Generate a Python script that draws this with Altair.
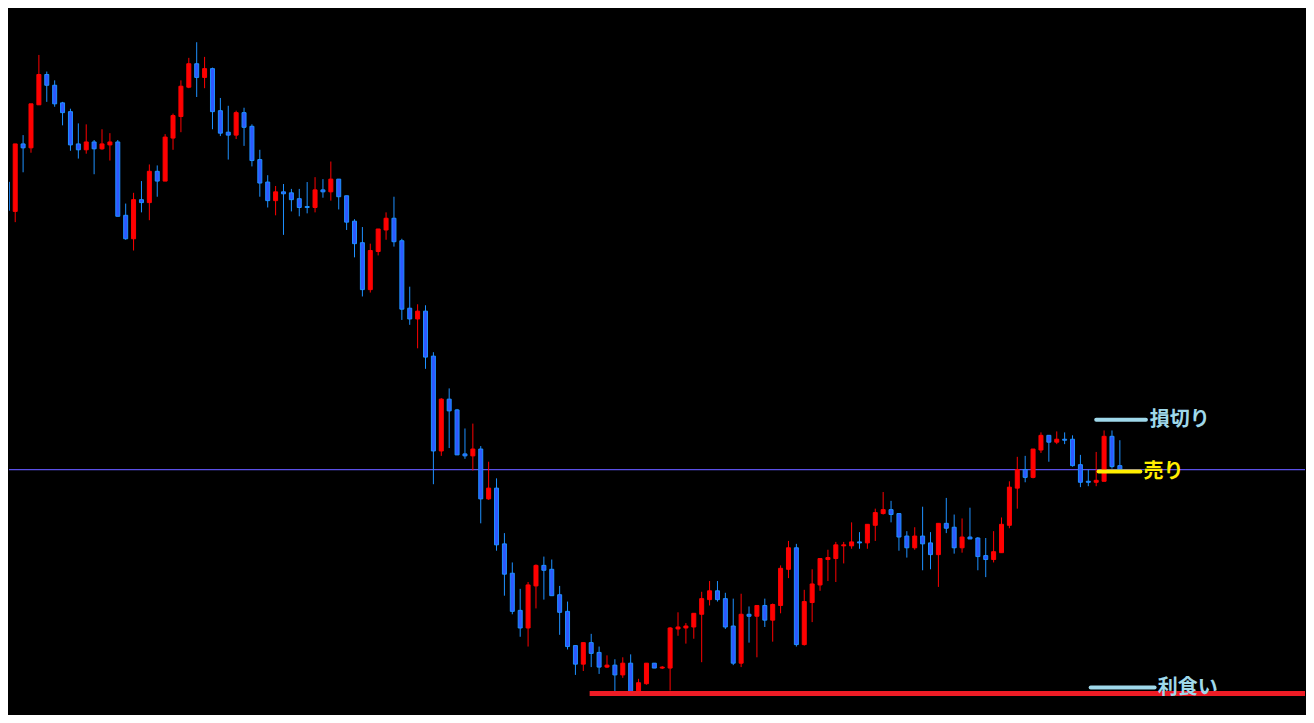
import altair as alt
import pandas as pd

# Candle readings (chart units measured downward from the top of the chart)
opens = [178, 208, 139, 143, 99, 68, 79, 97, 106, 139, 145, 137, 144, 140, 137, 212, 236, 196, 199, 167,
         177, 133, 111, 81, 57, 71, 62, 105, 127, 130, 107, 121, 155, 178, 197, 188, 189, 195, 203, 204,
         186, 188, 175, 192, 218, 240, 288, 249, 227, 215, 238, 307, 318, 310, 356, 453, 400, 411, 456, 458,
         451, 502, 491, 548, 578, 616, 634, 591, 570, 574, 600, 617, 652, 671, 649, 659, 674, 672, 682, 670,
         699, 691, 670, 675, 675, 635, 634, 633, 620, 605, 596, 604, 632, 670, 620, 622, 611, 626, 611, 574,
         552, 651, 608, 590, 564, 563, 550, 550, 546, 547, 529, 517, 513, 517, 540, 552, 540, 547, 559, 527,
         531, 552, 541, 542, 560, 564, 557, 529, 491, 472, 480, 452, 437, 444, 441, 441, 467, 484, 485, 484,
         438, 468]
highs = [175, 139, 130, 98, 48, 65, 74, 96, 103, 118, 119, 135, 124, 128, 135, 200, 189, 177, 160, 161,
         129, 108, 74, 51, 35, 50, 61, 92, 100, 105, 102, 119, 145, 171, 182, 180, 185, 185, 178, 173,
         175, 157, 175, 192, 216, 224, 241, 226, 209, 193, 236, 285, 303, 304, 352, 399, 389, 410, 430, 425,
         448, 464, 481, 537, 567, 594, 587, 569, 561, 564, 591, 607, 652, 649, 640, 653, 662, 666, 664, 661,
         686, 670, 670, 673, 633, 618, 629, 619, 597, 586, 586, 598, 604, 599, 612, 611, 604, 609, 570, 545,
         548, 595, 574, 563, 554, 546, 546, 526, 536, 528, 512, 495, 504, 517, 535, 531, 510, 536, 527, 501,
         518, 522, 511, 541, 542, 535, 521, 484, 459, 458, 451, 434, 437, 433, 434, 437, 457, 472, 454, 432,
         432, 442]
lows = [210, 219, 168, 148, 99, 96, 101, 120, 146, 154, 149, 170, 145, 156, 213, 237, 248, 209, 217, 193,
        177, 145, 127, 82, 91, 82, 124, 131, 155, 134, 141, 162, 193, 204, 212, 232, 208, 213, 210, 209,
        194, 197, 206, 227, 255, 295, 291, 253, 237, 244, 319, 324, 348, 369, 487, 458, 450, 457, 461, 473,
        527, 503, 555, 601, 620, 643, 653, 614, 605, 601, 641, 656, 682, 678, 674, 681, 675, 699, 685, 699,
        699, 692, 675, 676, 698, 642, 650, 645, 669, 611, 607, 635, 672, 674, 649, 664, 633, 648, 619, 583,
        653, 652, 628, 596, 586, 587, 568, 553, 553, 553, 545, 518, 526, 555, 562, 554, 575, 574, 592, 537,
        558, 557, 543, 575, 582, 567, 557, 532, 512, 485, 481, 455, 464, 446, 446, 469, 490, 489, 489, 484,
        471, 472]
closes = [207, 139, 143, 98, 68, 79, 98, 107, 140, 145, 137, 144, 139, 137, 213, 236, 196, 199, 167, 177,
          132, 110, 80, 57, 71, 62, 106, 128, 130, 107, 122, 156, 179, 197, 188, 190, 196, 204, 204, 186,
          188, 175, 193, 219, 241, 288, 248, 226, 215, 239, 308, 318, 310, 357, 453, 400, 412, 457, 458, 451,
          502, 491, 549, 579, 617, 634, 590, 570, 575, 601, 618, 653, 671, 649, 660, 674, 672, 682, 670, 699,
          690, 670, 675, 674, 634, 633, 632, 619, 604, 596, 605, 633, 670, 620, 622, 611, 626, 610, 573, 552,
          651, 607, 589, 563, 562, 549, 549, 546, 547, 528, 516, 513, 518, 541, 552, 540, 548, 559, 527, 532,
          552, 541, 543, 561, 564, 556, 528, 490, 472, 480, 451, 437, 444, 441, 442, 468, 485, 485, 483, 438,
          469, 472]
bar_index = list(range(-1, len(opens) - 1))

# Horizontal levels
current_price = 472
level_names = ["損切り", "売り", "利食い"]
level_values = [421, 474, 695]
level_line_start = [137.0, 137.3, 136.3]
level_line_end = [143.3, 142.6, 144.4]
level_text_x = [143.8, 143.0, 144.8]
target_level = 701
target_start = 72.8

df = pd.DataFrame({"i": bar_index, "open": opens, "high": highs, "low": lows, "close": closes})
df["dir"] = ["down" if c > o else "up" for o, c in zip(opens, closes)]

xs = alt.Scale(domain=[-0.7875, 163.4625], nice=False, zero=False, padding=0)
ys = alt.Scale(domain=[0, 723], reverse=True, nice=False, zero=False, padding=0)
X = lambda f: alt.X(f, scale=xs, axis=None)
Y = lambda f: alt.Y(f, scale=ys, axis=None)

price_line = alt.Chart(pd.DataFrame({"p": [current_price]})).mark_rule(
    color="#5a50e6", strokeWidth=1.2).encode(y=Y("p:Q"))

wicks = alt.Chart(df).mark_rule(strokeWidth=1, clip=True).encode(
    x=X("i:Q"), y=Y("high:Q"), y2="low:Q",
    color=alt.Color("dir:N", scale=alt.Scale(domain=["up", "down"], range=["#ff0000", "#1e90ff"]), legend=None))

bodies = alt.Chart(df).mark_bar(size=4, strokeWidth=1, clip=True).encode(
    x=X("i:Q"), y=Y("open:Q"), y2="close:Q",
    fill=alt.Fill("dir:N", scale=alt.Scale(domain=["up", "down"], range=["#ff0000", "#2e58ff"]), legend=None),
    stroke=alt.Stroke("dir:N", scale=alt.Scale(domain=["up", "down"], range=["#ff0000", "#1e90ff"]), legend=None))

target = alt.Chart(pd.DataFrame({"x": [target_start], "x2": [163.4625], "y": [target_level]})).mark_rule(
    color="#ee1c25", strokeWidth=5, clip=True).encode(x=X("x:Q"), x2="x2:Q", y=Y("y:Q"))

lv = pd.DataFrame({"name": level_names, "y": level_values, "x": level_line_start,
                   "x2": level_line_end, "tx": level_text_x})
lv_colors = alt.Scale(domain=level_names, range=["#9fd8ea", "#ffee00", "#9fd8ea"])
level_lines = alt.Chart(lv).mark_rule(strokeWidth=4, strokeCap="round").encode(
    x=X("x:Q"), x2="x2:Q", y=Y("y:Q"), color=alt.Color("name:N", scale=lv_colors, legend=None))
level_text = alt.Chart(lv).mark_text(
    align="left", baseline="middle", font="Noto Sans CJK JP", fontSize=20, fontWeight="bold").encode(
    x=X("tx:Q"), y=Y("y:Q"), text="name:N", color=alt.Color("name:N", scale=lv_colors, legend=None))

chart = alt.layer(price_line, wicks, bodies, target, level_lines, level_text).resolve_scale(
    color="independent"
).properties(
    width=1298, height=707, background="black", padding=0,
    autosize=alt.AutoSizeParams(type="fit", contains="padding")
).configure_view(strokeWidth=0)

chart.save("out.html", embed_options={"renderer": "svg", "actions": False})
